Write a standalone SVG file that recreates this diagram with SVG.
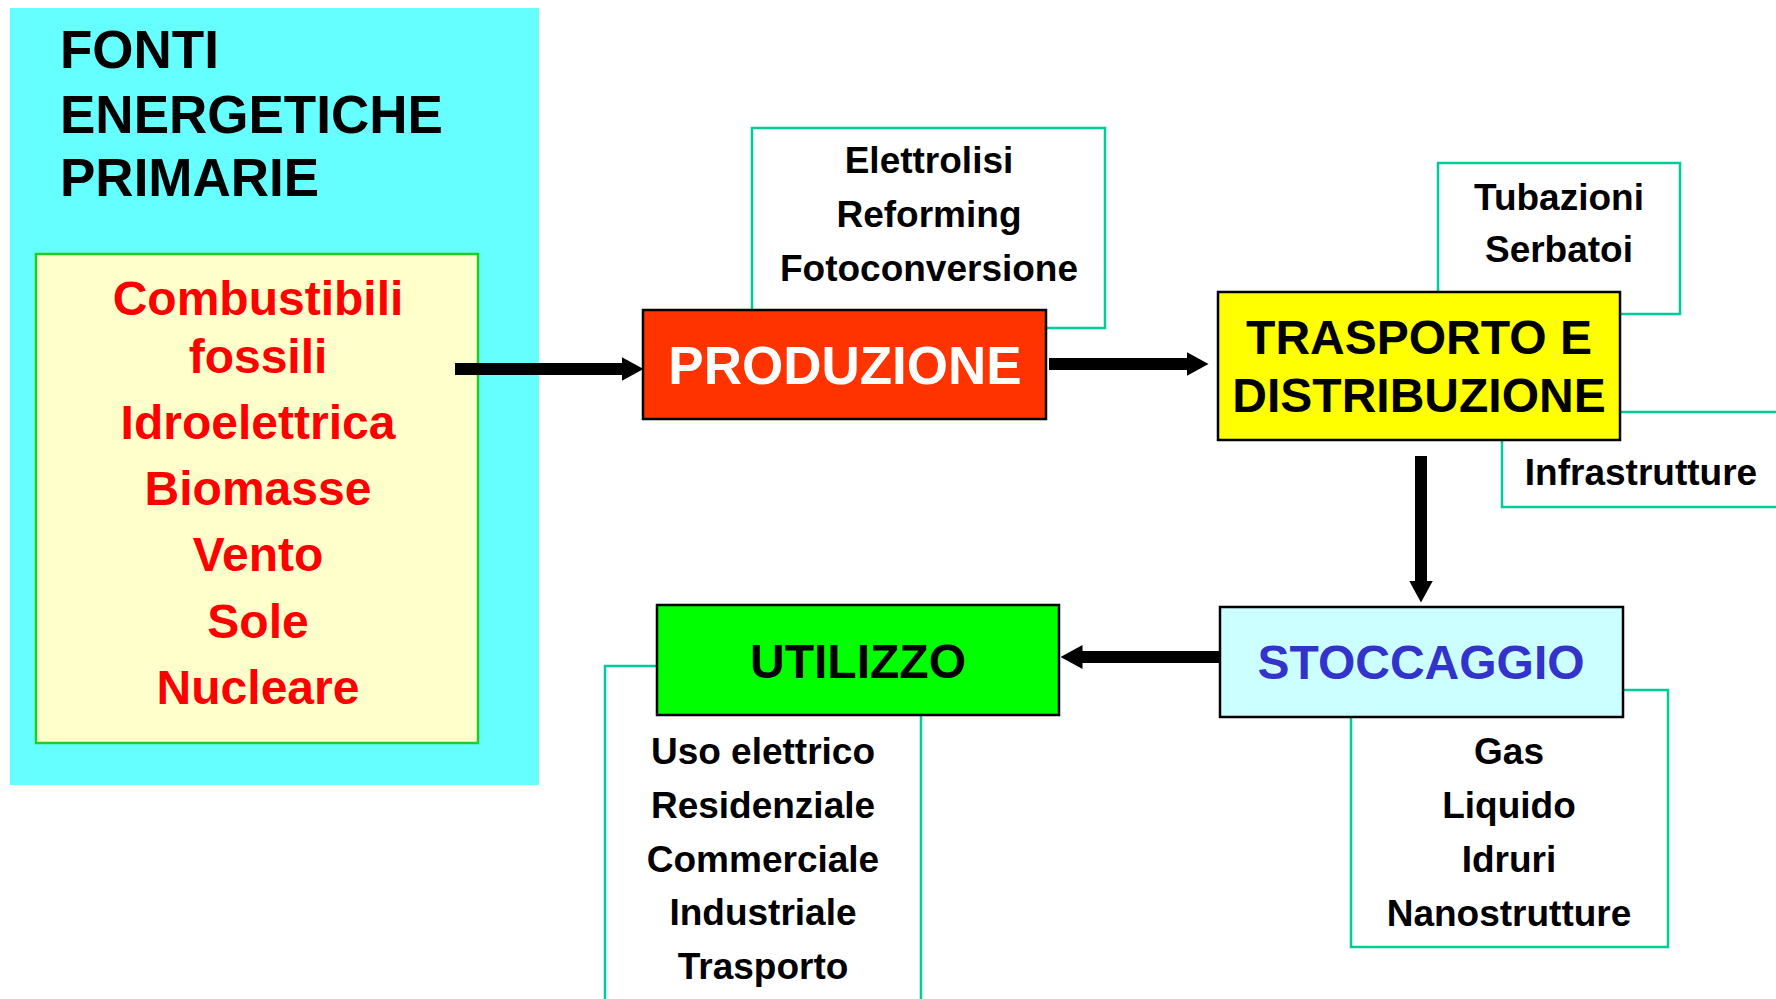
<svg xmlns="http://www.w3.org/2000/svg" width="1776" height="999" viewBox="0 0 1776 999">
<style>
text{font-family:"Liberation Sans",Arial,sans-serif;font-weight:bold;text-anchor:middle}
.sub{fill:#FFFFFF;stroke:#00CC99;stroke-width:2.5}
.main{stroke:#000000;stroke-width:2.5}
.s{font-size:37px;fill:#000000}
.big{font-size:48px}
.red{font-size:48px;fill:#FF0000}
.conn{stroke:#000000;stroke-width:12;fill:none}
</style>
<defs>
<marker id="ah" viewBox="0 0 22 24" markerWidth="22" markerHeight="24" refX="0.5" refY="12" orient="auto" markerUnits="userSpaceOnUse">
<path d="M0,0 L22,12 L0,24 Z" fill="#000000"/>
</marker>
</defs>
<rect width="1776" height="999" fill="#FFFFFF"/>
<g id="fonti">
<rect x="10" y="8" width="529" height="777" fill="#66FFFF"/>
<text x="60" y="68" style="font-size:53px;text-anchor:start">FONTI</text>
<text x="60" y="133" style="font-size:53px;text-anchor:start">ENERGETICHE</text>
<text x="60" y="196" style="font-size:53px;text-anchor:start">PRIMARIE</text>
<rect x="36" y="254" width="442" height="489" fill="#FFFFCC" stroke="#22CC22" stroke-width="2.5"/>
<text class="red" x="258" y="315">Combustibili</text>
<text class="red" x="258" y="373">fossili</text>
<text class="red" x="258" y="439">Idroelettrica</text>
<text class="red" x="258" y="505">Biomasse</text>
<text class="red" x="258" y="571">Vento</text>
<text class="red" x="258" y="638">Sole</text>
<text class="red" x="258" y="704">Nucleare</text>
</g>
<g id="produzione">
<rect class="sub" x="752" y="128" width="353" height="200"/>
<text class="s" x="929" y="173">Elettrolisi</text>
<text class="s" x="929" y="227">Reforming</text>
<text class="s" x="929" y="281">Fotoconversione</text>
<rect class="main" x="643" y="310" width="403" height="109" fill="#FF3300"/>
<text class="big" x="845" y="384" style="font-size:53px;fill:#FFFFFF">PRODUZIONE</text>
</g>
<g id="trasporto">
<rect class="sub" x="1438" y="163" width="242" height="151"/>
<text class="s" x="1559" y="210">Tubazioni</text>
<text class="s" x="1559" y="262">Serbatoi</text>
<rect class="sub" x="1502" y="412" width="290" height="95"/>
<text class="s" x="1641" y="485">Infrastrutture</text>
<rect class="main" x="1218" y="292" width="402" height="148" fill="#FFFF00"/>
<text class="big" x="1419" y="354" fill="#000000">TRASPORTO E</text>
<text class="big" x="1419" y="412" fill="#000000">DISTRIBUZIONE</text>
</g>
<g id="stoccaggio">
<rect class="sub" x="1351" y="690" width="317" height="257"/>
<text class="s" x="1509" y="764">Gas</text>
<text class="s" x="1509" y="818">Liquido</text>
<text class="s" x="1509" y="872">Idruri</text>
<text class="s" x="1509" y="926">Nanostrutture</text>
<rect class="main" x="1220" y="607" width="403" height="110" fill="#CCFFFF"/>
<text class="big" x="1421" y="679" fill="#3333CC">STOCCAGGIO</text>
</g>
<g id="utilizzo">
<rect class="sub" x="605" y="666" width="316" height="360"/>
<text class="s" x="763" y="764">Uso elettrico</text>
<text class="s" x="763" y="818">Residenziale</text>
<text class="s" x="763" y="872">Commerciale</text>
<text class="s" x="763" y="925">Industriale</text>
<text class="s" x="763" y="979">Trasporto</text>
<rect class="main" x="657" y="605" width="402" height="110" fill="#00FF00"/>
<text class="big" x="858" y="678" fill="#000000">UTILIZZO</text>
</g>
<g id="connectors">
<line class="conn" x1="455" y1="369" x2="622" y2="369" marker-end="url(#ah)"/>
<line class="conn" x1="1049" y1="364" x2="1187" y2="364" marker-end="url(#ah)"/>
<line class="conn" x1="1421" y1="456" x2="1421" y2="581" marker-end="url(#ah)"/>
<line class="conn" x1="1219" y1="657" x2="1082" y2="657" marker-end="url(#ah)"/>
</g>
</svg>
